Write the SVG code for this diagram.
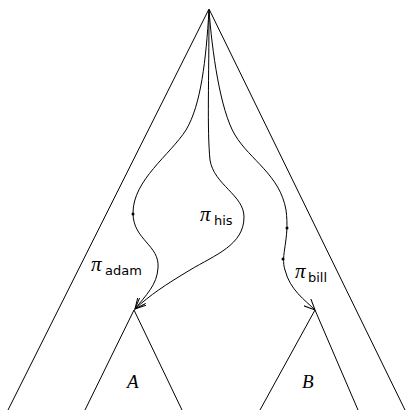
<svg xmlns="http://www.w3.org/2000/svg" width="407" height="410" viewBox="0 0 407 410">
<style>
.ln{fill:none;stroke:#000;stroke-width:1}
.pi{font-family:"Liberation Serif",serif;font-style:italic;font-size:21px}
.sub{font-family:"DejaVu Sans",sans-serif;font-size:13px}
.lab{font-family:"Liberation Serif",serif;font-style:italic;font-size:19px}
</style>
<defs>
<marker id="ah" markerWidth="12" markerHeight="10" refX="11" refY="5" orient="auto" markerUnits="userSpaceOnUse">
<path d="M0,0 L11,5 L0,10" fill="none" stroke="#000" stroke-width="1"/>
</marker>
</defs>
<g id="outer"><path class="ln" d="M8,410 L209,9 L405,410"/></g>
<g id="treeA"><path class="ln" d="M85,410 L134,310 L182,410"/><text class="lab" x="127" y="388">A</text></g>
<g id="treeB"><path class="ln" d="M260,410 L315,310 L358,410"/><text class="lab" x="302" y="388">B</text></g>
<g id="connectors">
<path class="ln" marker-end="url(#ah)" d="M209,10 C206,60 201,105 186,130 C170,155 133,180 133,213 C133,240 160,245 158,268 C157,285 146,295 135,309"/>
<path class="ln" marker-end="url(#ah)" d="M209,10 C209,80 207,130 210,160 C214,185 244,195 244,217 C244,245 215,255 190,270 C165,285 150,295 135,309"/>
<path class="ln" marker-end="url(#ah)" d="M209,10 C212,50 220,110 235,135 C250,160 280,175 286,210 C290,240 280,255 285,270 C290,290 305,300 315,310"/>
<circle cx="133" cy="214" r="1.5"/>
<circle cx="287" cy="228" r="1.5"/>
<circle cx="283" cy="259" r="1.5"/>
</g>
<g id="labels">
<text class="pi" x="91" y="271">π</text><text class="sub" x="105" y="275">adam</text>
<text class="pi" x="200" y="221">π</text><text class="sub" x="214" y="225">his</text>
<text class="pi" x="295" y="278">π</text><text class="sub" x="308" y="282">bill</text>
</g>
</svg>
